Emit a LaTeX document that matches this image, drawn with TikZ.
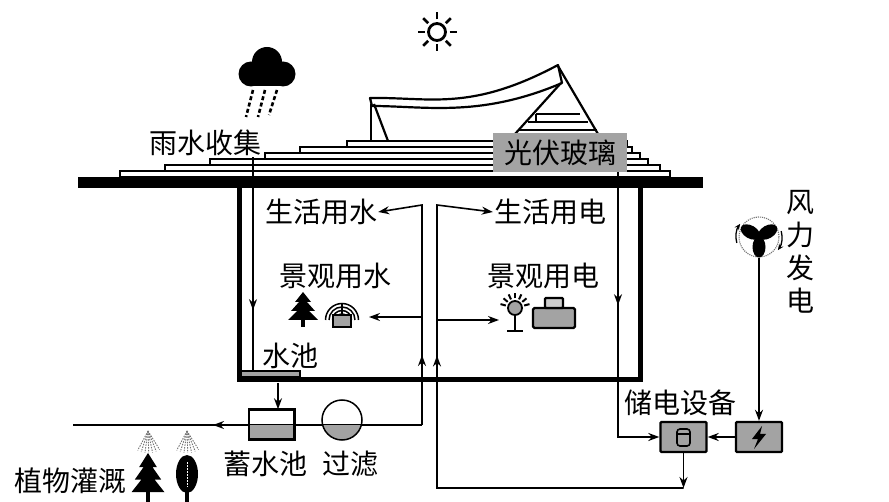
\documentclass[tikz,border=0pt]{standalone}
\usepackage{fontspec}
\newfontfamily\cjk{Noto Sans CJK SC}
\usetikzlibrary{arrows.meta,decorations.markings}
\definecolor{fillgray}{HTML}{A3A3A3}
\begin{document}
\begin{tikzpicture}[x=1pt,y=-1pt,
  pipe/.style={line width=1.6pt},
  tipped/.style={pipe,-{Stealth[length=11pt,width=8pt]}},
  flowmark/.style={postaction={decorate},decoration={markings,mark=at position #1 with {\arrow{Stealth[length=11pt,width=8pt]}}}},
  lbl/.style={font=\cjk\fontsize{28}{28}\selectfont,inner sep=1pt},
  strip/.style={draw,fill=white,line width=1.5pt},
  unit/.style={draw,line width=2.4pt,fill=fillgray,minimum width=46pt,minimum height=30pt,inner sep=0pt,rounded corners=1pt},
  fir/.pic={
    \fill (-2,26) rectangle (2,35);
    \fill (0,0) -- (-8,10) -- (-4,10) -- (-12,19) -- (-6,19) -- (-15,28) -- (15,28)
          -- (6,19) -- (12,19) -- (4,10) -- (8,10) -- cycle;
  },
  spray/.pic={
    \foreach \a in {-32,-22,...,32}
      \draw[black!55,line width=0.9pt,dash pattern=on 1.5pt off 1.2pt] (0,0) -- ++(90+\a:22);
  },
]
\useasboundingbox (0,0) rectangle (889,502);

% ---------- sky ----------
% sun
\draw[line width=2.8pt] (437,32) circle (8.5);
\foreach \a in {0,45,...,315}
  \draw[line width=2.6pt] (437,32) ++(\a:12.5) -- ++(\a:7);
% rain cloud
\fill (267,62) circle (15);
\fill (251,74) circle (12.5);
\fill (283,74) circle (12.5);
\fill (251,72) rectangle (283,86.5);
\foreach \xa/\xb/\yb in {253/246/117, 265/258/117, 277/269/115}
  \draw[line width=2.6pt,dash pattern=on 4pt off 2.5pt] (\xa,90) -- (\xb,\yb);

% ---------- roof ----------
\draw[strip] (347,141) rectangle (627,147);
\draw[strip] (300,147) rectangle (632,153);
\draw[strip] (265,153) rectangle (640,159);
\draw[strip] (210,159) rectangle (648,165);
\draw[strip] (165,165) rectangle (660,171);
\draw[strip] (120,171) rectangle (670,177);
\fill (78,177) rectangle (703,188);

% photovoltaic canopy
\draw[line width=2.2pt,fill=white,line join=round]
  (370,98) .. controls (430,97) and (470,112) .. (558,65)
  -- (562,83) .. controls (480,118) and (425,106) .. (372,106) -- cycle;
\draw[line width=2.2pt] (371,104) -- (371,141);
\draw[line width=2.2pt] (374,104) -- (388,141);
\draw[line width=2.2pt] (558,66) -- (598,134);
\draw[line width=2.2pt] (561,83) -- (515,134);
\draw[line width=1.6pt] (536,114) -- (580,114);
\draw[line width=1.6pt] (536,114) -- (536,122);
\draw[line width=1.6pt] (528,122) -- (588,122);
\draw[line width=1.6pt] (518,130) -- (597,130);
\node[lbl,fill=fillgray,minimum width=134pt,minimum height=39pt] (pv) at (560,152.5) {光伏玻璃};

% ---------- building ----------
\draw[line width=5pt] (239,186) -- (239,380) -- (640,380) -- (640,186);
\draw[line width=1.6pt,fill=fillgray] (241,371) rectangle (300,377);
\coordinate (pool) at (253,371);

% labels inside
\node[lbl] (rain) at (205,143) {雨水收集};
\node[lbl] (sw) at (321,212) {生活用水};
\node[lbl] (se) at (550,212) {生活用电};
\node[lbl] (lw) at (335,276) {景观用水};
\node[lbl] (le) at (543,276) {景观用电};
\node[lbl] (pl) at (290,356) {水池};

% landscape water icons: fir and fountain
\pic at (303,292) {fir};
\foreach \r in {6,9.5,13,16.5}
  \draw[line width=1.5pt] (342-\r,320) arc[start angle=180,end angle=360,radius=\r];
\draw[line width=2pt] (342,318) -- (342,304);
\draw[line width=1.8pt,fill=fillgray] (333,315) rectangle (351,327);
\coordinate (fnt) at (369,317);

% landscape power icons: lamp and projector
\draw[line width=1.8pt,fill=fillgray] (515,308) circle (7);
\foreach \a in {195,220,...,345}
  \draw[line width=2pt] (515,308) ++(\a:9.5) -- ++(\a:5.5);
\draw[line width=2pt] (515,315) -- (515,330);
\draw[line width=2pt] (507,331) -- (523,331);
\coordinate (lamp) at (499,320);
\draw[line width=2.4pt,fill=fillgray,rounded corners=1.5pt] (533,308) rectangle (575,328);
\draw[line width=2.4pt,fill=black!20,rounded corners=1pt] (545,298) rectangle (563,308);

% ---------- water supply ----------
\coordinate (wj) at (422,425);
\coordinate (irr) at (73,425);
\draw[pipe,flowmark=153pt] (rain.south -| 253,0) -- (pool);
\draw[pipe,flowmark=209pt] (wj) -- (irr);
\draw[tipped,flowmark=70pt] (wj) -- (422,205) -- (sw.east);
\draw[tipped] (422,317) -- (fnt);

% storage tank and filter
\node[draw,line width=1.5pt,minimum width=45pt,minimum height=29pt,inner sep=0pt] (tank) at (271.5,424.5) {};
\fill[fillgray] (250,425) rectangle (293,438.5);
\draw[line width=1.5pt] (tank.north west) rectangle (tank.south east);
\draw[pipe] (tank.west) -- (tank.east);
\node[circle,minimum size=40pt,inner sep=0pt] (filter) at (342,420) {};
\begin{scope}
  \clip (342,420) circle (20);
  \fill[fillgray] (320,425) rectangle (364,442);
\end{scope}
\draw[line width=1.5pt] (342,420) circle (20);
\coordinate (drain) at (278,383);
\draw[tipped] (drain) -- (drain |- tank.north);

\node[lbl] (tanklbl) at (265,464) {蓄水池};
\node[lbl] (filterlbl) at (350,464) {过滤};
\node[lbl] (plants) at (70,481) {植物灌溉};

% irrigated plants
\pic[xscale=1.1,yscale=1.4] at (148,453) {fir};
\fill (187,474) ellipse [x radius=11, y radius=19];
\fill (185,488) rectangle (189,502);
\draw[white,line width=1pt,dash pattern=on 2pt off 1pt] (187,462) -- (187,487);
\pic at (148,431) {spray};
\pic at (187,431) {spray};

% ---------- power supply ----------
\node[unit] (store) at (683.5,437) {};
\draw[line width=1.6pt,fill=fillgray,rounded corners=3pt] (677,429) rectangle (690,446);
\draw[line width=1.6pt] (677,434) -- (690,434);
\node[unit] (gen) at (759,437) {};
\fill (762,426) -- (752,439) -- (758,439) -- (754,449) -- (766,434) -- (760,434) -- cycle;
\node[lbl] (storelbl) at (680,403) {储电设备};

% wind turbine
\node[circle,draw=black!55,densely dotted,line width=1.1pt,minimum size=40pt,inner sep=0pt] (wind) at (759,237) {};
\foreach \a in {270,30,150}
  \fill[rotate around={\a:(759,237)}] (769,237) ellipse [x radius=10.5, y radius=6.5];
\draw[line width=1.3pt,-{Stealth[length=6pt,width=5pt]}] (759,237) ++(165:23) arc[start angle=165,end angle=215,radius=23];
\draw[line width=1.3pt,-{Stealth[length=6pt,width=5pt]}] (759,237) ++(-15:23) arc[start angle=-15,end angle=35,radius=23];
\node[lbl,align=center,font=\cjk\fontsize{28}{33}\selectfont] (windlbl) at (800,252) {风\\力\\发\\电};

\coordinate (ej) at (683.5,488);
\draw[tipped] (wind.south) -- (gen.north);
\draw[tipped] (gen.west) -- (store.east);
\draw[tipped,flowmark=133pt] (pv.south -| 618,0) -- (618,437) -- (store.west);
\draw[tipped] (store.south) -- (ej);
\draw[tipped,flowmark=379pt] (ej) -- (437,488) -- (437,205) -- (se.west);
\draw[tipped] (437,320) -- (lamp);
\end{tikzpicture}
\end{document}
